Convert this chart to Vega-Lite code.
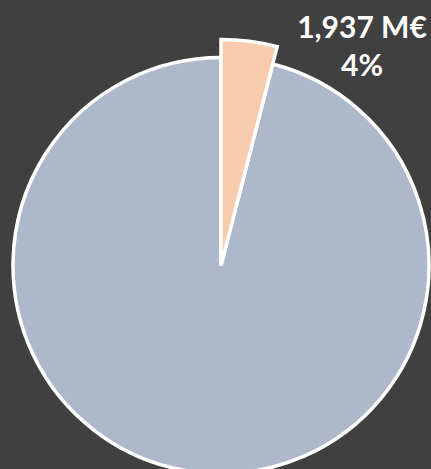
{
  "$schema": "https://vega.github.io/schema/vega-lite/v6.json",
  "width": 431,
  "height": 469,
  "autosize": {"type": "fit", "contains": "padding"},
  "padding": {"left": 11, "top": 44, "right": 0, "bottom": 0},
  "background": "#404040",
  "config": {"view": {"stroke": null}},
  "data": {
    "values": [
      {"segment": "A", "value": 1937, "label": "1,937 M€\n4%"},
      {"segment": "B", "value": 46488, "label": ""}
    ]
  },
  "transform": [
    {"stack": "value", "groupby": [], "as": ["v0", "v1"], "sort": [{"field": "segment", "order": "ascending"}]}
  ],
  "encoding": {
    "theta": {"field": "v0", "type": "quantitative", "scale": {"domain": [0, 48425]}},
    "theta2": {"field": "v1"}
  },
  "layer": [
    {
      "transform": [{"filter": "datum.segment === 'B'"}],
      "mark": {"type": "arc", "outerRadius": 208, "fill": "#ADB9CA", "stroke": "#FFFFFF", "strokeWidth": 3.5}
    },
    {
      "transform": [{"filter": "datum.segment === 'A'"}],
      "mark": {"type": "arc", "outerRadius": 226, "fill": "#F8CBAD", "stroke": "#FFFFFF", "strokeWidth": 3.5}
    },
    {
      "transform": [{"filter": "datum.segment === 'A'"}],
      "mark": {"type": "text", "radius": 217, "dx": 141, "dy": -20, "align": "center", "baseline": "middle", "lineBreak": "\n", "lineHeight": 38, "font": "Lato", "fontWeight": "bold", "fontSize": 30, "fill": "#FFFFFF"},
      "encoding": {
        "theta": {"field": "v0", "type": "quantitative"},
        "theta2": null,
        "text": {"field": "label"}
      }
    }
  ]
}
